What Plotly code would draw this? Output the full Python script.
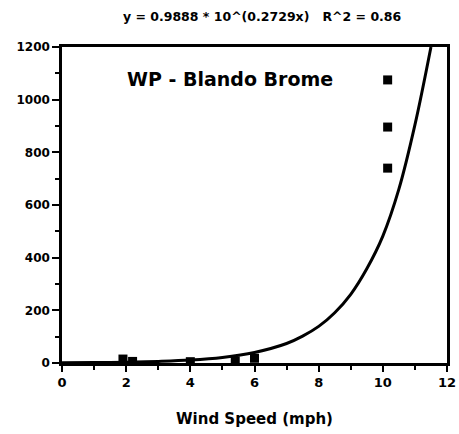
import plotly.graph_objects as go

# fitted curve
curve_x = [0, 1, 2, 3, 4, 5, 6, 7, 7.5, 8, 8.5, 9, 9.5, 10, 10.5, 11, 11.5]
curve_y = [1, 2, 3, 6, 11, 21, 40, 74, 102, 139, 191, 261, 358, 482, 660, 904, 1200]

# observed points
pts_x = [1.9, 2.2, 4.0, 5.4, 6.0, 10.15, 10.15, 10.15]
pts_y = [15, 6, 5, 8, 18, 1075, 896, 740]

x_ticks = [0, 2, 4, 6, 8, 10, 12]
y_ticks = [0, 200, 400, 600, 800, 1000, 1200]

title_text = "y = 0.9888 * 10^(0.2729x)   R^2 = 0.86"
label_text = "WP - Blando Brome"
x_title = "Wind Speed (mph)"

font = dict(family="DejaVu Sans, sans-serif", color="black", weight="bold")

fig = go.Figure()
fig.add_trace(go.Scatter(x=curve_x, y=curve_y, mode="lines",
                         line=dict(color="black", width=3, shape="spline"),
                         hoverinfo="skip", showlegend=False))
fig.add_trace(go.Scatter(x=pts_x, y=pts_y, mode="markers",
                         marker=dict(symbol="square", color="black", size=9),
                         showlegend=False))

fig.update_layout(
    width=459, height=434,
    margin=dict(l=62, r=12, t=47, b=71, autoexpand=False),
    paper_bgcolor="white", plot_bgcolor="white",
    font=dict(size=12, **font),
    title=dict(text=title_text, x=0.571, xanchor="center", y=0.962, yanchor="middle",
               font=dict(size=12.5, **font)),
    annotations=[dict(text=label_text, x=0.164, xref="paper", y=0.9, yref="paper",
                      xanchor="left", yanchor="middle", showarrow=False,
                      font=dict(size=19, **font))],
)
fig.update_xaxes(range=[0, 12], tickvals=x_ticks, ticks="outside", ticklen=6, tickwidth=2,
                 tickcolor="black", showline=True, linecolor="black", linewidth=2.5,
                 mirror=True, showgrid=False, zeroline=False,
                 minor=dict(dtick=1, ticks="outside", ticklen=4, tickwidth=2, tickcolor="black"),
                 title=dict(text=x_title, font=dict(size=15, **font), standoff=25),
                 tickfont=dict(size=13, **font))
fig.update_yaxes(range=[0, 1200], tickvals=y_ticks, ticks="outside", ticklen=7, tickwidth=2,
                 tickcolor="black", showline=True, linecolor="black", linewidth=2.5,
                 mirror=True, showgrid=False, zeroline=False,
                 minor=dict(dtick=100, ticks="outside", ticklen=4, tickwidth=2, tickcolor="black"),
                 tickfont=dict(size=12, **font))

fig.write_html("out.html")
